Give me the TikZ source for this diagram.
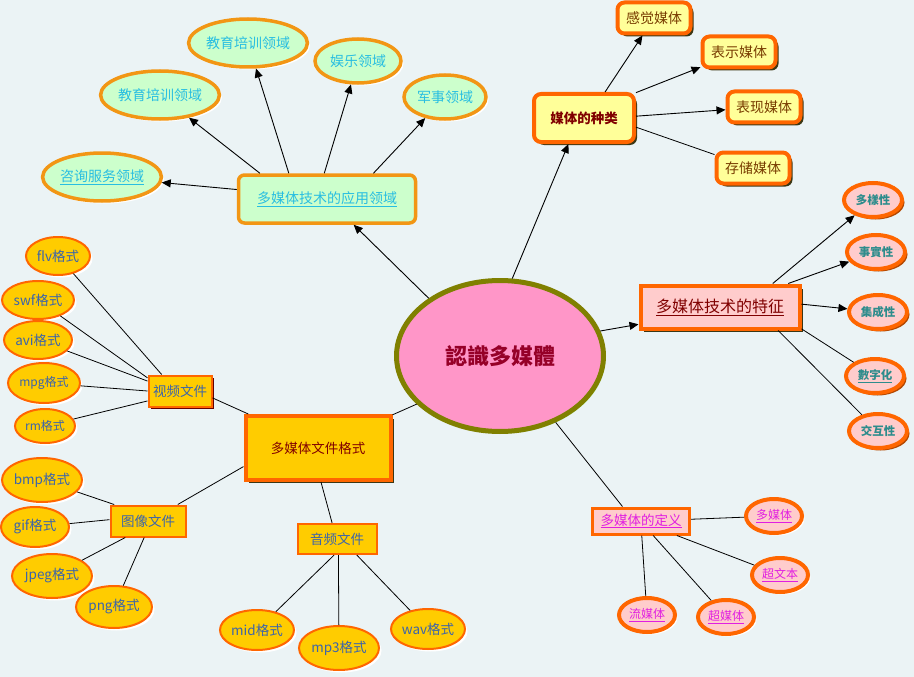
\documentclass[tikz,border=0pt]{standalone}
\usepackage{fontspec}
\newfontfamily\cjk{Noto Sans CJK SC}
\usetikzlibrary{shapes.geometric,arrows.meta,shadows}
\definecolor{bgcol}{RGB}{235,243,245}
\definecolor{appfill}{RGB}{204,255,204}
\definecolor{appdraw}{RGB}{242,150,20}
\definecolor{apptext}{RGB}{40,190,225}
\definecolor{orng}{RGB}{255,102,0}
\definecolor{yel}{RGB}{255,255,153}
\definecolor{medtext}{RGB}{128,0,0}
\definecolor{medchild}{RGB}{120,60,0}
\definecolor{shad}{RGB}{60,55,20}
\definecolor{pinkfill}{RGB}{255,204,204}
\definecolor{teal}{RGB}{45,140,140}
\definecolor{magen}{RGB}{225,30,225}
\definecolor{gold}{RGB}{255,204,0}
\definecolor{fmttext}{RGB}{60,100,170}
\definecolor{cfill}{RGB}{255,150,200}
\definecolor{cdraw}{RGB}{128,128,0}
\definecolor{ctext}{RGB}{150,0,40}
\begin{document}
\begin{tikzpicture}[x=1pt,y=-1pt,
  every node/.style={font=\cjk, inner sep=0pt},
  fs/.style={font=\cjk\fontsize{#1}{#1}\selectfont},
  wshadow/.style={general shadow={fill=white, shadow xshift=2.5pt, shadow yshift=-2.5pt}},
  dshadow/.style={general shadow={fill=shad, shadow xshift=3pt, shadow yshift=-3pt}},
  appbox/.style={rectangle, rounded corners=6pt, fill=appfill, draw=appdraw, line width=3.5pt, text=apptext, fs=14},
  appell/.style={ellipse, fill=appfill, draw=appdraw, line width=3.5pt, text=apptext, fs=14, wshadow},
  medbox/.style={rectangle, rounded corners=7pt, fill=yel, draw=orng, line width=4pt, dshadow},
  featell/.style={ellipse, fill=pinkfill, draw=orng, line width=4pt, text=teal, fs=11.5, minimum width=58, minimum height=34, general shadow={fill=orng!70!black, shadow xshift=2.5pt, shadow yshift=-2.5pt}},
  defell/.style={ellipse, fill=pinkfill, draw=orng, line width=4pt, text=magen, fs=12, minimum width=56, minimum height=34, wshadow},
  fmtbox/.style={rectangle, fill=gold, draw=orng, line width=2pt, text=fmttext, fs=13.5},
  fmtell/.style={ellipse, fill=gold, draw=orng, line width=2pt, text=fmttext, fs=13.5, wshadow},
  arr/.style={-{Triangle[length=9pt,width=8pt]}, line width=0.9pt},
  lnk/.style={line width=0.8pt}
]
\fill[bgcol] (0,0) rectangle (914,677);
\useasboundingbox (0,0) rectangle (914,677);

% center
\node[ellipse, fill=cfill, draw=cdraw, line width=5pt, minimum width=207, minimum height=151,
  text=ctext, fs=22, general shadow={fill=appfill, shadow xshift=2pt, shadow yshift=-2pt}] (c) at (500,356) {\bfseries 認識多媒體};

% application areas
\node[appbox, minimum width=177, minimum height=48] (app) at (327,199) {\underline{多媒体技术的应用领域}};
\node[appell, minimum width=104, minimum height=48] (zx) at (102,177) {\underline{咨询服务领域}};
\node[appell, minimum width=104, minimum height=48] (jy1) at (160,95) {教育培训领域};
\node[appell, minimum width=106, minimum height=48] (jy2) at (248,43) {教育培训领域};
\node[appell, minimum width=86, minimum height=44] (yl) at (358,61) {娱乐领域};
\node[appell, minimum width=82, minimum height=44] (js) at (445,97) {军事领域};

% media types
\node[medbox, minimum width=100, minimum height=48, text=medtext, fs=13.5] (mt) at (584,118) {\bfseries 媒体的种类};
\node[medbox, minimum width=73, minimum height=31, text=medchild, fs=14] (gj) at (654,18) {感觉媒体};
\node[medbox, minimum width=73, minimum height=31, text=medchild, fs=14] (bs) at (739,52) {表示媒体};
\node[medbox, minimum width=73, minimum height=31, text=medchild, fs=14] (bx) at (764,107) {表现媒体};
\node[medbox, minimum width=73, minimum height=31, text=medchild, fs=14] (cc) at (753,168) {存储媒体};

% features
\node[rectangle, fill=pinkfill, draw=orng, line width=4pt, minimum width=159, minimum height=43, text=medtext, fs=16, dshadow] (ft) at (720,307) {\underline{多媒体技术的特征}};
\node[featell] (f1) at (873,200) {\bfseries 多樣性};
\node[featell] (f2) at (876,252) {\bfseries 事實性};
\node[featell] (f3) at (878,312) {\bfseries 集成性};
\node[featell] (f4) at (875,376) {\bfseries\underline{數字化}};
\node[featell] (f5) at (878,431) {\bfseries 交互性};

% definition
\node[rectangle, fill=pinkfill, draw=orng, line width=3pt, minimum width=97, minimum height=26, text=magen, fs=13.5] (df) at (641,521) {\underline{多媒体的定义}};
\node[defell] (d1) at (774,516) {\underline{多媒体}};
\node[defell] (d2) at (780,575) {\underline{超文本}};
\node[defell] (d3) at (647,615) {\underline{流媒体}};
\node[defell] (d4) at (726,617) {\underline{超媒体}};

% file formats
\node[rectangle, fill=gold, draw=orng, line width=4pt, minimum width=145, minimum height=64, text=medtext, fs=13.5, dshadow] (fm) at (318,448) {多媒体文件格式};
\node[fmtbox, minimum width=63, minimum height=31, general shadow={fill=medtext!80!black, shadow xshift=2.5pt, shadow yshift=-2.5pt}] (vd) at (180,391) {视频文件};
\node[fmtbox, minimum width=75, minimum height=31] (im) at (148,521) {图像文件};
\node[fmtbox, minimum width=79, minimum height=30] (au) at (337,539) {音频文件};

\node[fmtell, minimum width=64, minimum height=38] (flv) at (58,256) {flv格式};
\node[fmtell, minimum width=72, minimum height=38] (swf) at (38,300) {swf格式};
\node[fmtell, minimum width=68, minimum height=38] (avi) at (38,340) {avi格式};
\node[fmtell, minimum width=72, minimum height=40, fs=12] (mpg) at (44,383) {mpg格式};
\node[fmtell, minimum width=60, minimum height=34, fs=12] (rm) at (45,426) {rm格式};
\node[fmtell, minimum width=80, minimum height=44] (bmp) at (42,480) {bmp格式};
\node[fmtell, minimum width=68, minimum height=40] (gif) at (35,527) {gif格式};
\node[fmtell, minimum width=80, minimum height=44] (jpeg) at (52,576) {jpeg格式};
\node[fmtell, minimum width=76, minimum height=42] (png) at (114,607) {png格式};
\node[fmtell, minimum width=74, minimum height=40] (mid) at (257,630) {mid格式};
\node[fmtell, minimum width=80, minimum height=44] (mp3) at (339,648) {mp3格式};
\node[fmtell, minimum width=74, minimum height=40] (wav) at (428,629) {wav格式};

% connectors from center
\draw[arr] (c.141) -- (app.-44);
\draw[arr] (c.81) -- (mt.-121);
\draw[arr] (c.14) -- (ft.192);
\draw[lnk] (c.-50) -- (df.142);
\draw[lnk] (c.-150) -- (fm.24);

% application
\draw[arr] (app.174) -- (zx);
\draw[arr] (app.159) -- (jy1);
\draw[arr] (app.146) -- (jy2);
\draw[arr] (app.96) -- (yl);
\draw[arr] (app.29) -- (js);

% media
\draw[arr] (mt.51) -- (gj);
\draw[arr] (mt.26) -- (bs);
\draw[arr] (mt.2) -- (bx);
\draw[lnk] (mt.-10) -- (cc);

% features
\draw[arr] (ft.24) -- (f1);
\draw[arr] (ft.19) -- (f2);
\draw[arr] (ft.2) -- (f3);
\draw[lnk] (ft.-15) -- (f4);
\draw[lnk] (ft.-22) -- (f5);

% definition
\draw[lnk] (df.2) -- (d1);
\draw[lnk] (df.-22) -- (d2);
\draw[lnk] (df.-87) -- (d3);
\draw[lnk] (df.-50) -- (d4);

% formats
\draw[lnk] (fm.154) -- (vd.-12);
\draw[lnk] (fm.194) -- (im.29);
\draw[lnk] (fm.-85) -- (au.107);
\draw[lnk] (vd.138) -- (flv);
\draw[lnk] (vd.158) -- (swf);
\draw[lnk] (vd.163) -- (avi);
\draw[lnk] (vd.180) -- (mpg);
\draw[lnk] (vd.197) -- (rm);
\draw[lnk] (im.154) -- (bmp);
\draw[lnk] (im.178) -- (gif);
\draw[lnk] (im.216) -- (jpeg);
\draw[lnk] (im.257) -- (png);
\draw[lnk] (au.-100) -- (mid);
\draw[lnk] (au.-85) -- (mp3);
\draw[lnk] (au.-39) -- (wav);
\end{tikzpicture}
\end{document}
